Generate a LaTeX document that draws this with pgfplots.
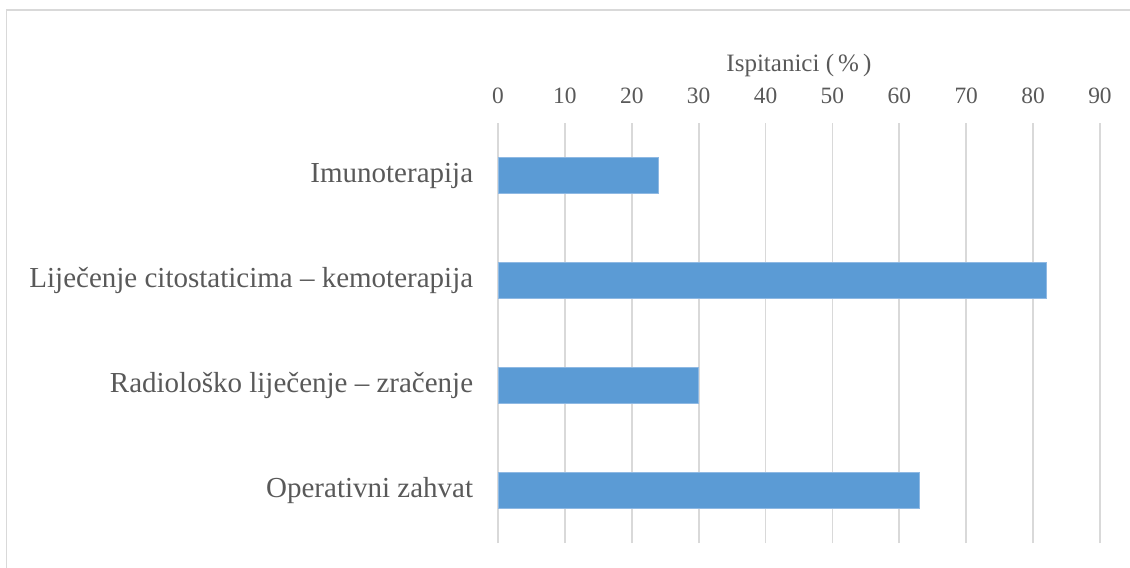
\documentclass[border=0pt]{standalone}
\usepackage{fontspec}
\setmainfont{Liberation Serif}
\usepackage{pgfplots}
\pgfplotsset{compat=1.18}
\definecolor{barblue}{HTML}{5B9BD5}
\definecolor{baredge}{HTML}{8FB9E3}
\definecolor{gridgray}{HTML}{D9D9D9}
\definecolor{framegray}{HTML}{D9D9D9}
\definecolor{txtgray}{HTML}{595959}
\begin{document}
\begin{tikzpicture}
\useasboundingbox (0,0) rectangle (565bp,284bp);
\draw[framegray, line width=0.8bp] (3.3bp,0) -- (3.3bp,279bp) -- (565bp,279bp);
\begin{axis}[
  at={(249bp,12.5bp)}, anchor=south west,
  scale only axis,
  width=301bp, height=210bp,
  xbar,
  xmin=0, xmax=90,
  ymin=0.5, ymax=4.5,
  xtick={0,10,...,90},
  ytick={1,2,3,4},
  yticklabels={Operativni zahvat, Radiološko liječenje – zračenje, Liječenje citostaticima – kemoterapija, Imunoterapija},
  axis line style={draw=none},
  major tick style={draw=none},
  xmajorgrids,
  grid style={gridgray, line width=0.85bp},
  xticklabel pos=top,
  /pgf/number format/assume math mode=true,
  xticklabel style={font=\fontsize{11.7bp}{13bp}\selectfont, text=txtgray, anchor=base, inner sep=0pt, yshift=10bp},
  yticklabel style={font=\fontsize{14.5bp}{17bp}\selectfont, text=txtgray, anchor=east, inner sep=0pt, xshift=-8bp},
  xlabel={Ispitanici (\,\%\,)},
  xlabel style={at={(axis description cs:0.5,1)}, anchor=base, yshift=26bp, font=\fontsize{12.5bp}{14bp}\selectfont, text=txtgray, inner sep=0pt},
  bar width=18bp,
  clip=false,
]
\addplot[fill=barblue, draw=baredge, line width=0.5bp] coordinates {(63,1) (30,2) (82,3) (24,4)};
\end{axis}
\end{tikzpicture}
\end{document}
